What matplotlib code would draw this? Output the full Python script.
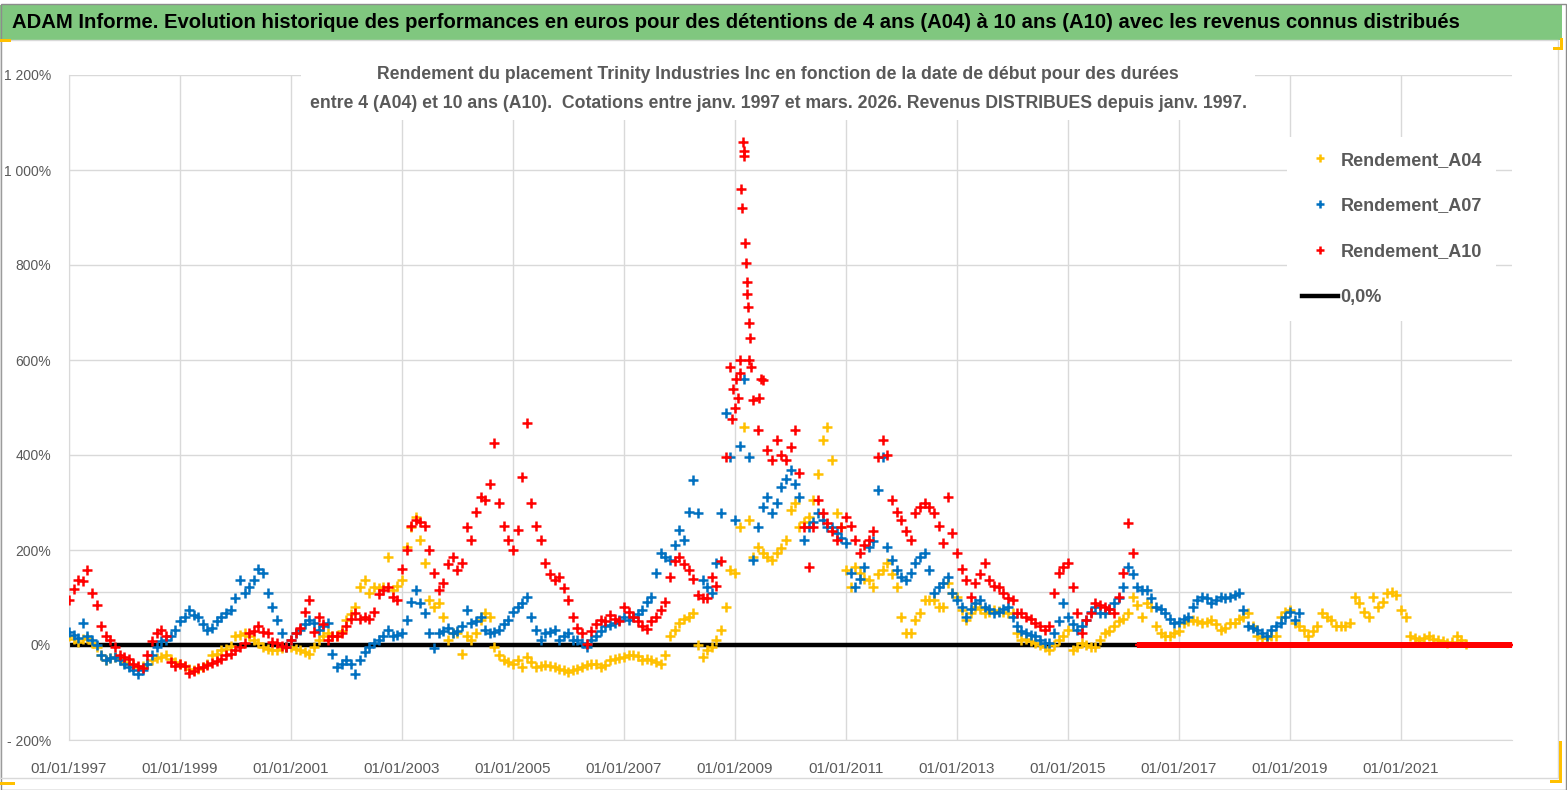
import numpy as np
import pandas as pd
import matplotlib
matplotlib.use('Agg')
import matplotlib.pyplot as plt
import matplotlib.dates as mdates
from matplotlib.patches import Rectangle
from matplotlib.ticker import FuncFormatter

plt.rcParams['font.family'] = ['Liberation Sans', 'DejaVu Sans']

# valeurs mensuelles (en %)
a04 = [
    18, 12, 7, 12, 14, 5, -4, -20, -32, -28, -25, -30,
    -35, -40, -42, -46, -44, -40, -32, -28, -25, -22, -30, -36,
    -39, -45, -50, -53, -50, -46, -40, -22, -18, -11, -8, -2,
    18, 22, 25, 20, 11, 5, -4, -8, -11, -10, -6, -4,
    -4, -8, -11, -14, -18, -5, 11, 18, 25, 20, 18, 30,
    53, 65, 81, 123, 137, 109, 123, 120, 123, 186, 116, 125,
    137, 207, 249, 270, 221, 172, 95, 81, 88, 60, 11, 25,
    25, -18, 18, 11, 25, 53, 67, 60, -4, -20, -32, -36,
    -39, -32, -46, -25, -35, -46, -44, -42, -44, -46, -50, -53,
    -56, -53, -50, -46, -42, -39, -40, -46, -42, -32, -30, -28,
    -25, -22, -21, -24, -32, -30, -32, -35, -39, -20, 18, 32,
    46, 55, 60, 67, 0, -25, -10, -4, 11, 32, 81, 158,
    151, 249, 460, 263, 186, 207, 193, 185, 179, 193, 205, 221,
    284, 298, 249, 260, 270, 305, 361, 431, 460, 390, 277, 249,
    158, 123, 165, 151, 140, 137, 123, 150, 158, 172, 150, 123,
    60, 25, 25, 53, 67, 95, 95, 95, 81, 81, 130, 110,
    102, 74, 53, 67, 81, 75, 67, 70, 74, 72, 70, 67,
    67, 25, 11, 12, 8, 4, 0, -5, -11, 0, 11, 20,
    32, -11, -5, 4, 0, -4, -4, 10, 25, 30, 39, 50,
    55, 67, 102, 85, 60, 88, 81, 39, 25, 18, 20, 25,
    30, 46, 50, 53, 50, 46, 48, 53, 45, 32, 35, 46,
    46, 55, 60, 67, 40, 18, 14, 14, 18, 18, 60, 70,
    74, 46, 40, 32, 18, 30, 39, 67, 60, 53, 39, 40,
    39, 46, 102, 88, 70, 60, 102, 81, 90, 109, 112, 105,
    74, 60, 18, 15, 11, 14, 18, 12, 11, 8, 4, 6,
    18, 10, 2,
]

a07 = [
    28, 21, 14, 46, 18, 10, 0, -20, -32, -28, -25, -32,
    -39, -46, -53, -60, -52, -40, -20, -4, 8, 11, 18, 32,
    50, 60, 74, 63, 60, 45, 32, 35, 50, 60, 67, 74,
    100, 137, 109, 123, 137, 161, 151, 109, 81, 53, 25, -4,
    11, 25, 32, 45, 53, 46, 32, 40, 46, -18, -46, -40,
    -32, -39, -60, -32, -15, -4, 4, 11, 20, 32, 18, 22,
    25, 53, 90, 116, 88, 67, 25, -7, 25, 30, 35, 25,
    30, 39, 74, 46, 50, 60, 32, 25, 28, 32, 45, 53,
    70, 81, 88, 102, 60, 32, 11, 25, 28, 32, 11, 20,
    25, 11, 11, 5, -4, 11, 20, 30, 39, 42, 46, 52,
    60, 53, 60, 65, 74, 90, 102, 151, 193, 185, 179, 210,
    242, 221, 280, 347, 277, 137, 123, 109, 172, 277, 488, 396,
    263, 420, 560, 396, 179, 249, 291, 312, 277, 300, 333, 350,
    368, 340, 312, 221, 249, 260, 277, 263, 249, 249, 235, 225,
    214, 151, 123, 140, 165, 207, 220, 326, 396, 207, 180, 158,
    144, 137, 151, 172, 185, 193, 158, 109, 123, 130, 144, 110,
    95, 81, 60, 75, 88, 95, 81, 75, 67, 70, 75, 81,
    60, 39, 30, 25, 22, 18, 10, 4, 4, 25, 50, 88,
    60, 45, 32, 40, 53, 70, 81, 67, 67, 75, 88, 100,
    123, 165, 150, 123, 116, 116, 100, 81, 75, 67, 55, 46,
    49, 55, 60, 80, 95, 102, 100, 88, 95, 102, 100, 102,
    105, 109, 74, 39, 35, 32, 25, 18, 32, 40, 46, 60,
    70, 53, 67,
]

a10 = [
    95, 118, 137, 135, 158, 110, 84, 40, 20, 10, -5, -21,
    -25, -30, -39, -45, -48, -20, 8, 25, 32, 20, -35, -45,
    -40, -45, -58, -55, -49, -46, -42, -38, -34, -30, -22, -18,
    -10, -4, 5, 25, 30, 39, 28, 25, 7, 4, -2, -4,
    10, 25, 35, 70, 95, 28, 60, 45, 10, 18, 20, 25,
    40, 55, 67, 55, 60, 55, 70, 108, 115, 123, 102, 95,
    160, 200, 250, 263, 258, 250, 200, 151, 116, 130, 170, 186,
    158, 172, 249, 221, 280, 312, 305, 340, 425, 300, 250, 221,
    200, 242, 354, 467, 298, 250, 221, 172, 150, 137, 144, 120,
    95, 60, 35, 25, 2, 30, 45, 53, 50, 63, 55, 50,
    80, 70, 60, 50, 40, 33, 50, 60, 73, 91, 143, 176,
    186, 170, 157, 140, 105, 100, 100, 143, 124, 176, 396, 585,
    500, 572, 1030, 600, 516, 453, 558, 410, 390, 431, 400, 390,
    417, 453, 362, 249, 165, 249, 305, 277, 256, 240, 221, 249,
    270, 250, 221, 193, 210, 221, 240, 396, 431, 400, 305, 280,
    263, 240, 221, 277, 290, 298, 290, 277, 250, 214, 312, 235,
    193, 160, 137, 102, 130, 150, 172, 137, 125, 123, 109, 100,
    95, 67, 67, 60, 55, 46, 40, 32, 39, 109, 151, 165,
    172, 123, 67, 25, 53, 67, 88, 85, 81, 75, 67, 102,
    151, 256, 193,
]

# points isolés du pic de 2009 (A10)
a10_pic_dates = ['2008-12-10', '2008-12-20', '2009-01-10', '2009-01-20', '2009-02-05',
                 '2009-02-12', '2009-02-18', '2009-02-24', '2009-03-04', '2009-03-09',
                 '2009-03-13', '2009-03-18', '2009-03-23', '2009-03-27', '2009-04-03',
                 '2009-04-08', '2009-04-15', '2009-06-10', '2009-06-20']
a10_pic = [475, 540, 560, 520, 600, 960, 920, 1058, 1040, 846,
           805, 765, 740, 712, 678, 646, 585, 520, 560]

# durées non encore atteintes : rendement affiché à 0
zero_debut = '2016-04-01'
zero_fin = '2022-12-31'

ticks_annees = list(range(1997, 2022, 2))

titre = ("ADAM Informe. Evolution historique des performances en euros pour des détentions "
         "de 4 ans (A04) à 10 ans (A10) avec les revenus connus distribués")
sous_titre = ("Rendement du placement Trinity Industries Inc en fonction de la date de début pour des durées\n"
              "entre 4 (A04) et 10 ans (A10).  Cotations entre janv. 1997 et mars. 2026. "
              "Revenus DISTRIBUES depuis janv. 1997.")

d04 = pd.date_range('1997-01-01', periods=len(a04), freq='MS')
d07 = pd.date_range('1997-01-01', periods=len(a07), freq='MS')
d10 = pd.date_range('1997-01-01', periods=len(a10), freq='MS')
d_zero = pd.date_range(zero_debut, zero_fin, freq='W')

jaune = '#FFC000'
bleu = '#0070C0'
rouge = '#FF0000'
gris_txt = '#595959'
gris_grille = '#D9D9D9'

fig = plt.figure(figsize=(15.67, 7.90), dpi=100)
ax = fig.add_axes([69/1567, 1-740/790, 1443/1567, 665/790])

# bandeau vert du titre
fig.patches.append(Rectangle((0, 1-40/790), 1562/1567, 35/790, transform=fig.transFigure,
                             facecolor='#80C77F', edgecolor='none', zorder=0))
fig.patches.append(Rectangle((0.5/1567, 0.5/790), 1565/1567, 786/790, transform=fig.transFigure,
                             facecolor='none', edgecolor='#8C8C8C', lw=1, zorder=0))
fig.patches.append(Rectangle((0, 12/790), 1558/1567, 738/790, transform=fig.transFigure,
                             facecolor='none', edgecolor=gris_grille, lw=1, zorder=0))
for (x0, y0, w, h) in [(0, 748, 11, 3), (1553, 740, 10, 3), (1560, 740, 3, 12),
                       (0, 5, 15, 3), (1550, 7, 12, 3), (1559, 7, 3, 42)]:
    fig.patches.append(Rectangle((x0/1567, y0/790), w/1567, h/790, transform=fig.transFigure,
                                 facecolor=jaune, edgecolor='none', zorder=1))
fig.text(12/1567, 1-22/790, titre, fontsize=14.6, fontweight='bold', color='black',
         ha='left', va='center')

ligne0 = ax.axhline(0, color='black', lw=3.2, label='0,0%', zorder=2)
ax.axhline(112, color=gris_grille, lw=1, zorder=0)

kw = dict(linestyle='none', marker='+', ms=6.5, mew=1.8)
p04, = ax.plot(d04, a04, color=jaune, label='Rendement_A04', zorder=3, **kw)
p07, = ax.plot(d07, a07, color=bleu, label='Rendement_A07', zorder=4, **kw)
p10, = ax.plot(d10, a10, color=rouge, label='Rendement_A10', zorder=5, **kw)
ax.plot(pd.to_datetime(a10_pic_dates), a10_pic, color=rouge, zorder=5, **kw)
ax.plot(d_zero, np.zeros(len(d_zero)), color=rouge, zorder=5,
        linestyle='none', marker='+', ms=4.5, mew=1.6)

ax.set_xlim(pd.Timestamp('1997-01-01'), pd.Timestamp('2023-01-01'))
ax.set_ylim(-200, 1200)
ax.set_yticks(range(-200, 1201, 200))
ax.set_xticks([pd.Timestamp(f'{a}-01-01') for a in ticks_annees])
ax.xaxis.set_major_formatter(mdates.DateFormatter('%d/%m/%Y'))


def fmt_pct(v, pos):
    v = int(round(v))
    s = f'{abs(v):,}'.replace(',', ' ') + '%'
    return '- ' + s if v < 0 else s


ax.yaxis.set_major_formatter(FuncFormatter(fmt_pct))
ax.grid(True, color=gris_grille, lw=1)
ax.set_axisbelow(True)
for s in ['top', 'right']:
    ax.spines[s].set_visible(False)
for s in ['left', 'bottom']:
    ax.spines[s].set_color(gris_grille)
ax.tick_params(length=0, colors=gris_txt)
ax.tick_params(axis='x', labelsize=11, pad=16)
ax.tick_params(axis='y', labelsize=10, pad=13)

fig.text(778/1567, 1-89/790, sous_titre, fontsize=12.7, fontweight='bold', color=gris_txt,
         ha='center', va='center', linespacing=1.95,
         bbox=dict(facecolor='white', edgecolor='none', pad=6))

leg = ax.legend([p04, p07, p10, ligne0], ['Rendement_A04', 'Rendement_A07', 'Rendement_A10', '0,0%'],
                loc='upper left', bbox_to_anchor=(0.838, 0.92), frameon=True, facecolor='white',
                edgecolor='none', framealpha=1, fancybox=False, fontsize=13,
                labelspacing=1.6, handlelength=2.0, handletextpad=0.15, borderpad=0.8,
                markerscale=0.8)
for t in leg.get_texts():
    t.set_color(gris_txt)
    t.set_fontweight('bold')

fig.savefig('out.png', dpi=100)
